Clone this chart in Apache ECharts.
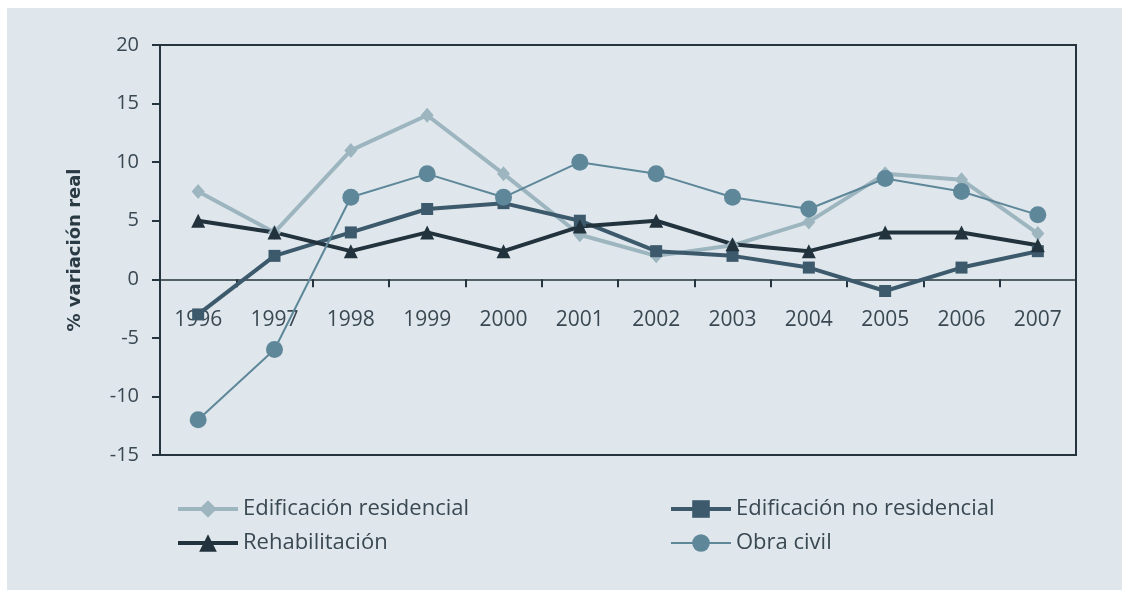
<!DOCTYPE html>
<html>
<head>
<meta charset="utf-8">
<script src="https://cdn.jsdelivr.net/npm/echarts@6/dist/echarts.min.js"></script>
<style>
  html, body { margin: 0; padding: 0; background: #ffffff; }
  #chart { width: 1122px; height: 590px; }
</style>
</head>
<body>
<div id="chart"></div>
<script>
// years on the x axis
const years = ["1996", "1997", "1998", "1999", "2000", "2001", "2002", "2003", "2004", "2005", "2006", "2007"];

// % variación real
const residencial = [7.5, 4, 11, 14, 9, 3.8, 2, 2.9, 4.9, 9, 8.5, 3.9];
const noResidencial = [-3, 2, 4, 6, 6.5, 5, 2.4, 2, 1, -1, 1, 2.4];
const rehabilitacion = [5, 4, 2.4, 4, 2.4, 4.5, 5, 3, 2.4, 4, 4, 2.9];
const obraCivil = [-12, -6, 7, 9, 7, 10, 9, 7, 6, 8.6, 7.5, 5.5];

const seriesNames = ["Edificación residencial", "Edificación no residencial", "Rehabilitación", "Obra civil"];
const seriesColors = ["#9db5bf", "#3d5a6c", "#22333d", "#5e8799"];
const lineWidths = [4, 4, 4, 2];

const textColor = "#3a4852";
const axisColor = "#26343d";
const font = "'Open Sans', Lato, sans-serif";

// grid: -15..20 over 410px, so the zero line sits 15/35 of the way up
const gridTop = 45;
const gridHeight = 410;
const zeroOffset = -(gridHeight * 15) / 35;

function lineSeries(i, data, symbol, size) {
  return {
    name: seriesNames[i],
    type: "line",
    data: data,
    symbol: symbol,
    symbolSize: size,
    lineStyle: { color: seriesColors[i], width: lineWidths[i] },
    itemStyle: { color: seriesColors[i] },
    emphasis: { disabled: true },
    animation: false,
  };
}

function legendItem(i) {
  return {
    name: seriesNames[i],
    lineStyle: { width: lineWidths[i], color: seriesColors[i] },
  };
}

function legendColumn(left, items) {
  return {
    data: items.map(legendItem),
    orient: "vertical",
    left: left,
    top: 498,
    padding: 0,
    itemWidth: 60,
    itemHeight: 22,
    itemGap: 12,
    textStyle: { color: textColor, fontSize: 22, lineHeight: 22, fontFamily: font },
  };
}

function renderChart() {
  const options = {
    backgroundColor: "#ffffff",
    textStyle: { fontFamily: font },
    graphic: [
      {
        type: "rect",
        z: -10,
        shape: { x: 7, y: 8, width: 1115, height: 582 },
        style: { fill: "#dfe7ed" },
      },
    ],
    grid: {
      left: 160,
      top: gridTop,
      width: 916,
      height: gridHeight,
      show: true,
      borderColor: axisColor,
      borderWidth: 2,
    },
    legend: [legendColumn(176, [0, 2]), legendColumn(669, [1, 3])],
    xAxis: {
      type: "category",
      data: years,
      position: "bottom",
      offset: zeroOffset,
      axisLine: { onZero: false, lineStyle: { color: axisColor, width: 1.5 } },
      axisTick: { show: true, length: 8, lineStyle: { color: axisColor, width: 2 } },
      axisLabel: { color: textColor, fontSize: 21, margin: 30, fontFamily: font },
      splitLine: { show: false },
    },
    yAxis: {
      type: "value",
      min: -15,
      max: 20,
      interval: 5,
      name: "% variación real",
      nameLocation: "middle",
      nameRotate: 90,
      nameGap: 76,
      nameTextStyle: { color: "#2a3a44", fontSize: 18, fontWeight: "bold", fontFamily: "'DejaVu Sans', sans-serif" },
      axisLine: { show: true, lineStyle: { color: axisColor, width: 2 } },
      axisTick: { show: true, length: 8, lineStyle: { color: axisColor, width: 2 } },
      axisLabel: { color: textColor, fontSize: 20, margin: 21, fontFamily: font },
      splitLine: { show: false },
    },
    series: [
      lineSeries(0, residencial, "diamond", [13, 15]),
      lineSeries(1, noResidencial, "rect", 12),
      lineSeries(2, rehabilitacion, "triangle", 14),
      lineSeries(3, obraCivil, "circle", 17),
    ],
  };

  const chart = echarts.init(document.querySelector("#chart"));
  chart.setOption(options);
}

document.addEventListener("DOMContentLoaded", renderChart);
</script>
</body>
</html>
